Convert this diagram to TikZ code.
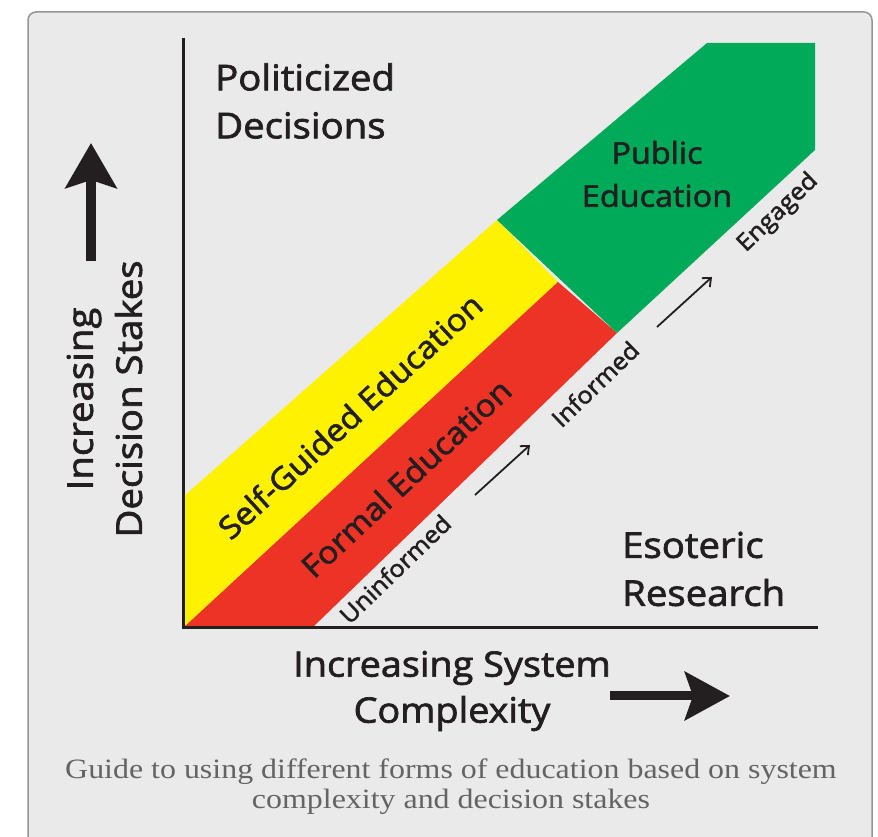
\documentclass[tikz,border=0pt]{standalone}
\usepackage{fontspec}
\setmainfont{Open Sans}[FakeStretch=1.08,FakeBold=2]
\newfontfamily\capfont{Liberation Serif}[FakeStretch=1.14]
\usetikzlibrary{arrows.meta}
\definecolor{panel}{RGB}{234,234,234}
\definecolor{frame}{RGB}{150,150,150}
\definecolor{ink}{RGB}{35,31,32}
\definecolor{capgray}{RGB}{100,100,100}
\definecolor{bandyellow}{RGB}{255,242,0}
\definecolor{bandred}{RGB}{237,50,38}
\definecolor{bandgreen}{RGB}{0,170,88}
\begin{document}
\begin{tikzpicture}[x=1pt,y=1pt,
  big/.style={font=\fontsize{35.5}{48}\selectfont,text=ink,inner sep=0pt},
  band/.style={font=\fontsize{31}{40}\selectfont,text=ink,inner sep=0pt,rotate=42.5},
  tick/.style={font=\fontsize{23.5}{28}\selectfont,text=ink,inner sep=0pt,rotate=44},
  fat/.style={ink,line width=10pt,-{Stealth[length=45pt,width=51pt,inset=8pt]}},
  thin/.style={ink,line width=1.8pt,-{Straight Barb[length=7pt,width=12pt]}}]
\useasboundingbox (0,0) rectangle (878,837);
\fill[white] (0,0) rectangle (878,837);
\draw[frame,fill=panel,line width=1.5pt,rounded corners=8pt] (28,-20) rectangle (872,825);
\fill[bandyellow] (183,340) -- (497,617) -- (558,555) -- (183,209) -- cycle;
\fill[bandred] (183,209) -- (558,555) -- (617,504) -- (312,209) -- cycle;
\fill[bandgreen] (497,617) -- (707,794) -- (815,794) -- (815,687) -- (617,504) -- cycle;
\coordinate (o) at (183,209);
\coordinate (ytop) at (183,799);
\coordinate (xend) at (818,209);
\draw[ink,line width=3pt] (ytop) -- (o) -- (xend);
\node[big,align=left,anchor=west] (pol) at (215,736) {Politicized\\Decisions};
\node[big,align=left,anchor=west] (eso) at (622,268) {Esoteric\\Research};
\node[big,align=center,font=\fontsize{30}{43}\selectfont] (pub) at (657,663) {Public\\Education};
\node[band] (self) at (350,421) {Self-Guided Education};
\node[band,rotate=0.5] (formal) at (406,359) {Formal Education};
\node[tick] (unin) at (395,268) {Uninformed};
\node[tick] (inf) at (595,453) {Informed};
\node[tick] (eng) at (778,624) {Engaged};
\coordinate (s1) at (475,342);
\coordinate (t1) at (530,392);
\coordinate (s2) at (657,510);
\coordinate (t2) at (712,560);
\draw[thin] (s1) -- (t1);
\draw[thin] (s2) -- (t2);
\node[big,align=center,font=\fontsize{35}{46}\selectfont] (xlab) at (452,146) {Increasing System\\Complexity};
\node[big,align=center,rotate=90,font=\fontsize{35.5}{49}\selectfont] (ylab) at (104.5,438) {Increasing\\Decision Stakes};
\coordinate (up0) at (91,576);
\coordinate (up1) at (91,694);
\coordinate (rt0) at (610,141);
\coordinate (rt1) at (730,141);
\draw[fat] (up0) -- (up1);
\draw[fat,line width=9pt,-{Stealth[length=45pt,width=48pt,inset=8pt]}] (rt0) -- (rt1);
\node[align=center,text=capgray,inner sep=0pt,font=\capfont\fontsize{28}{30}\selectfont] (cap) at (451,50.5) {Guide to using different forms of education based on system\\complexity and decision stakes};
\end{tikzpicture}
\end{document}
